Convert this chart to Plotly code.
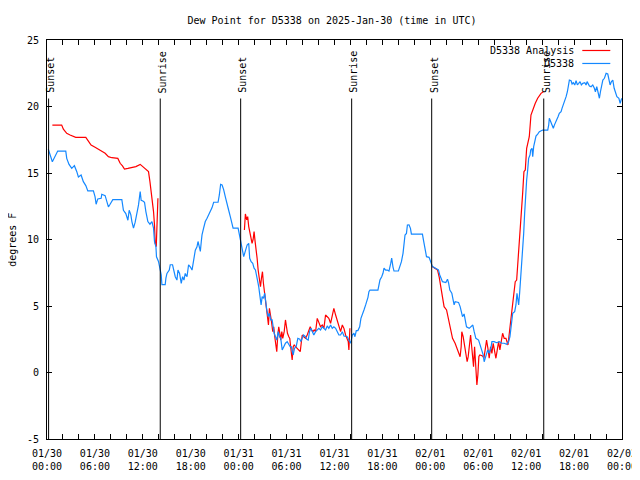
import plotly.graph_objects as go
import pandas as pd

# ---------------- data ----------------
start = pd.Timestamp("2025-01-30 00:00")

station_hours = [0.16,0.67,1.34,2.35,2.47,2.76,3.10,3.43,3.73,3.93,4.27,4.55,4.86,5.11,5.81,6.02,6.15,6.36,6.78,6.86,7.28,7.49,7.69,7.90,8.24,9.37,9.57,9.87,10.13,10.29,10.50,10.63,10.83,11.04,11.25,11.46,11.67,11.79,12.01,12.21,12.38,12.63,12.89,13.14,13.34,13.46,13.64,13.71,13.96,14.09,14.30,14.39,14.8,14.89,15.02,15.31,15.43,15.72,15.85,16.06,16.27,16.40,16.60,16.81,16.98,17.15,17.31,17.53,17.73,17.94,18.16,18.28,18.44,18.57,18.78,18.91,19.11,19.20,19.32,19.41,19.61,19.82,20.04,20.24,20.45,20.67,20.87,21.42,21.58,21.74,21.92,22.12,22.33,22.55,22.75,22.96,23.17,23.30,23.93,24.09,24.43,24.63,25.06,25.26,25.38,25.56,25.76,25.93,26.10,26.22,26.39,26.51,26.69,26.81,26.94,27.10,27.26,27.39,27.52,27.69,27.85,28.02,28.19,28.32,28.44,28.61,28.77,28.95,29.11,29.27,29.45,29.65,29.86,30.08,30.28,30.45,30.58,30.70,30.83,30.99,31.20,31.41,31.66,31.78,31.96,32.12,32.37,32.53,32.71,32.87,33.04,33.21,33.41,33.63,33.84,34.04,34.25,34.47,34.67,34.88,35.09,35.29,35.51,35.72,35.92,36.14,36.35,36.55,36.76,36.98,37.18,37.39,37.60,37.80,38.02,38.23,38.43,38.56,38.73,38.93,39.15,39.31,39.49,39.69,39.90,40.03,40.19,40.31,40.44,41.44,41.57,41.69,41.91,42.07,42.20,42.41,42.62,42.82,43.04,43.16,43.32,43.45,44.0,44.17,44.38,44.58,44.71,44.83,45.01,45.13,45.33,45.51,45.63,47.01,47.14,47.26,47.39,47.52,47.84,48.06,48.27,49.02,49.18,49.52,49.94,50.15,50.28,50.44,50.69,50.86,50.98,51.11,51.53,51.73,51.91,52.03,52.23,52.36,52.53,52.86,53.16,53.32,53.49,53.70,54.04,54.20,54.45,54.62,54.74,54.87,55.04,55.19,55.37,55.58,55.71,55.99,56.30,56.63,56.96,57.25,57.55,57.80,57.97,58.13,58.31,58.56,58.72,58.85,58.97,59.06,59.18,59.31,59.44,59.56,59.69,59.81,59.94,60.06,60.19,60.31,60.48,60.57,60.73,60.82,60.94,61.07,61.23,61.44,61.65,62.07,62.70,62.82,62.90,62.99,63.24,63.40,63.53,63.65,63.83,63.99,64.15,64.37,64.49,64.66,64.83,65.0,65.16,65.33,65.41,65.62,65.75,65.91,66.08,66.25,66.41,66.58,66.75,66.91,67.09,67.34,67.50,67.63,67.75,67.92,68.13,68.34,68.54,68.67,68.84,69.01,69.17,69.30,69.42,69.60,69.80,70.01,70.22,70.35,70.51,70.68,70.85,71.02,71.18,71.36,71.61,71.77,71.89,72.0]
station_dewpt = [16.8,15.85,16.65,16.65,16.1,15.65,15.35,15.55,15.1,14.7,14.85,14.35,14.05,13.65,13.65,13.2,12.65,13.05,13.1,13.4,13.3,12.9,12.45,12.65,13.0,13.0,12.2,11.95,11.45,12.2,11.85,11.35,10.85,11.3,11.95,12.6,13.6,12.95,12.9,12.8,12.1,11.35,11.15,11.35,10.85,9.85,9.45,8.7,8.35,7.95,7.35,6.6,6.6,7.1,7.45,7.7,8.1,8.1,7.7,7.2,6.95,7.7,7.45,6.7,7.2,6.95,7.45,7.2,8.1,7.95,7.7,8.2,8.95,9.2,9.45,9.85,9.35,9.1,9.85,10.35,10.85,11.35,11.6,11.85,12.1,12.4,12.8,12.8,13.35,14.15,14.1,13.75,13.2,12.75,12.2,11.7,11.2,10.85,10.85,10.34,9.46,8.71,9.59,9.71,8.59,8.33,8.21,7.84,7.71,7.2,6.83,6.45,5.45,5.08,5.7,5.58,5.96,5.2,4.7,4.2,4.45,3.95,3.95,3.44,2.95,2.69,2.44,3.07,2.69,2.57,1.7,1.94,2.2,2.32,2.07,1.94,1.94,1.57,1.32,1.82,1.94,2.57,2.5,2.32,2.64,2.82,2.69,2.5,2.44,3.07,3.32,3.07,2.82,3.07,3.2,3.32,3.2,3.44,3.32,3.2,3.5,3.32,3.57,3.32,3.44,3.32,3.07,2.82,2.82,3.07,2.74,2.74,2.69,2.44,2.2,2.82,2.95,2.69,3.15,3.15,3.44,4.07,4.32,4.7,5.08,5.33,5.65,6.08,6.2,6.2,6.5,6.95,7.2,7.46,7.84,7.7,7.7,7.63,8.2,8.6,7.95,7.63,7.63,7.95,8.33,8.96,9.83,10.34,10.46,11.09,11.1,10.84,10.4,10.4,9.96,9.46,8.96,8.71,8.66,8.33,7.96,7.71,7.33,6.83,6.76,7.01,6.75,6.2,5.96,5.45,5.08,5.33,5.27,4.95,4.45,4.2,4.4,3.95,3.44,3.32,3.44,3.57,3.07,2.57,2.44,2.07,1.7,1.32,0.81,1.07,1.44,1.7,1.44,1.82,2.32,2.32,2.24,2.32,2.2,2.2,2.12,2.32,2.69,3.7,4.45,4.58,5.08,5.96,5.58,5.08,5.96,6.95,7.96,9.46,10.46,11.97,13.47,14.47,15.23,16.1,16.35,16.73,16.86,16.23,16.98,17.48,17.78,17.93,18.11,18.23,18.23,18.6,19.11,18.98,18.6,18.36,18.6,18.74,18.98,19.23,19.49,19.61,19.86,20.11,20.36,20.74,21.11,21.62,21.99,21.94,21.69,21.79,21.62,21.94,21.62,21.74,21.87,21.62,21.74,21.79,21.62,21.87,21.69,21.54,21.49,21.62,21.37,21.11,21.49,20.99,20.62,21.11,21.49,21.99,22.12,22.49,22.44,21.99,21.62,21.87,21.99,21.37,20.99,20.74,20.62,20.24,20.49,20.62]

analysis_night1_hours = [0.67,1.84,2.05,2.47,2.89,3.60,4.86,5.18,5.52,6.02,6.44,6.94,7.28,7.69,8.12,8.87,9.16,9.45,9.70,10.13,10.63,11.13,11.67,12.01,12.42,12.71,12.89,13.05,13.21,13.34,13.46,13.55,13.68,13.80,13.89]
analysis_night1_dewpt = [18.6,18.6,18.3,17.98,17.86,17.68,17.68,17.4,17.1,16.93,16.78,16.6,16.48,16.23,16.15,16.1,15.73,15.53,15.3,15.35,15.43,15.48,15.65,15.48,15.23,15.1,14.35,13.6,12.84,12.1,11.1,9.71,9.46,11.34,13.1]

analysis_night2_hours = [24.72,24.84,25.01,25.13,25.26,25.38,25.56,25.68,25.81,25.93,26.06,26.19,26.31,26.44,26.60,26.73,26.85,26.98,27.10,27.23,27.35,27.48,27.60,27.73,27.85,27.98,28.11,28.27,28.39,28.52,28.65,28.77,28.90,29.02,29.15,29.27,29.40,29.52,29.70,29.86,29.99,30.11,30.28,30.40,30.53,30.70,30.83,30.95,31.12,31.33,31.53,31.71,31.83,31.96,32.16,32.37,32.58,32.79,32.96,33.12,33.29,33.46,33.63,33.84,34.04,34.25,34.47,34.67,34.88,35.09,35.29,35.51,35.72,35.92,36.14,36.35,36.55,36.76,36.98,37.18,37.39,37.60,37.72,37.80,37.93]
analysis_night2_dewpt = [10.71,11.92,11.47,11.72,10.97,10.59,10.21,9.71,10.0,10.59,9.84,9.34,8.59,7.71,7.08,6.45,7.08,7.58,6.71,5.96,5.45,4.95,4.32,3.57,4.82,4.45,3.82,3.07,3.44,2.69,2.2,1.57,2.82,3.44,2.95,2.44,3.07,2.57,3.07,3.95,3.44,2.95,2.69,2.57,1.82,0.94,1.94,2.07,1.94,1.82,1.7,1.57,2.2,2.82,2.69,2.57,2.82,3.2,3.44,3.2,3.07,3.2,3.07,4.07,3.7,3.44,3.57,3.32,4.32,4.2,4.07,3.7,4.32,4.82,4.32,3.82,3.44,3.07,3.57,3.32,2.82,2.44,2.32,1.7,3.32]

analysis_night3_hours = [48.27,48.90,49.10,49.22,49.40,49.60,49.72,50.03,50.19,50.35,50.53,50.78,51.10,51.41,51.61,51.73,51.86,51.94,52.11,52.28,52.45,52.61,52.74,52.86,53.04,53.16,53.29,53.41,53.54,53.70,53.83,53.95,54.08,54.20,54.54,54.71,54.87,55.04,55.21,55.37,55.54,55.71,55.87,56.05,56.21,56.38,56.55,56.71,56.88,57.05,57.25,57.47,57.72,57.88,58.01,58.13,58.26,58.38,58.51,58.63,58.81,58.93,59.06,59.22,59.39,59.56,59.72,59.89,60.06,60.23,60.39,60.60,60.82,61.14,61.44,61.65,61.86,62.15]
analysis_night3_dewpt = [7.96,7.71,7.2,6.71,6.2,5.45,4.95,4.7,4.2,3.7,3.07,2.57,2.2,1.7,1.32,1.19,1.94,3.07,2.69,2.07,1.44,0.81,1.19,1.94,2.82,2.07,1.07,0.44,1.94,0.32,-0.94,-0.19,1.2,1.32,1.25,1.07,1.82,2.44,1.82,1.07,1.94,1.44,2.2,1.7,1.07,1.7,2.32,1.7,2.2,2.95,2.57,2.57,2.07,2.95,3.7,4.2,4.95,5.45,6.2,6.83,6.95,7.96,8.71,10.46,11.97,13.47,15.1,15.23,16.86,17.48,17.73,19.36,19.74,20.24,20.62,20.79,20.99,21.11]

sun_event_labels = ["Sunset", "Sunrise", "Sunset", "Sunrise", "Sunset", "Sunrise"]
sun_event_hours = [0.2, 14.18, 24.25, 38.15, 48.17, 62.2]

tick_hours = list(range(0, 73, 2))
label_every = 6
y_tick_values = [-5, 0, 5, 10, 15, 20, 25]

# ---------------- build ----------------
def to_time(hs):
    return [start + pd.Timedelta(hours=h) for h in hs]

ax_x, ax_y = [], []
for hs, vs in [(analysis_night1_hours, analysis_night1_dewpt),
               (analysis_night2_hours, analysis_night2_dewpt),
               (analysis_night3_hours, analysis_night3_dewpt)]:
    ax_x += to_time(hs) + [None]
    ax_y += vs + [None]

RED = "#ff0000"
BLUE = "#1488ff"
FONT = "DejaVu Sans Mono"

# the page body adds an 8px offset, so the figure is 632x472 drawn at (8, 8)
OFF = 8
FIG_W, FIG_H = 640 - OFF, 480 - OFF

fig = go.Figure()
fig.add_trace(go.Scatter(x=ax_x, y=ax_y, mode="lines", name="D5338 Analysis",
                         line=dict(color=RED, width=1.2), connectgaps=False))
fig.add_trace(go.Scatter(x=to_time(station_hours), y=station_dewpt, mode="lines",
                         name="D5338", line=dict(color=BLUE, width=1.2)))

tickvals = to_time(tick_hours)
ticktext = []
for h in tick_hours:
    if h % label_every == 0:
        tt = start + pd.Timedelta(hours=h)
        ticktext.append(tt.strftime("%m/%d") + "<br>" + tt.strftime("%H:%M"))
    else:
        ticktext.append("")

shapes = []
annotations = []
for lab, h in zip(sun_event_labels, sun_event_hours):
    t = start + pd.Timedelta(hours=h)
    shapes.append(dict(type="line", xref="x", yref="y", x0=t, x1=t, y0=-5, y1=20.6,
                       line=dict(color="black", width=1)))
    annotations.append(dict(x=t, y=20.85, xref="x", yref="y", text=lab, textangle=-90,
                            showarrow=False, xanchor="center", yanchor="bottom", xshift=2,
                            font=dict(family=FONT, size=10, color="black")))

# manual legend (text right aligned, sample line to the right); pixel positions in the window
PL, PR, PT, PB = 46.7, 621.7, 39.5, 439.0
pw, ph = PR - PL, PB - PT
def px_x(p): return (p - PL) / pw
def px_y(p): return (PB - p) / ph

for name, color, ypix in [("D5338 Analysis", RED, 50), ("D5338", BLUE, 63)]:
    annotations.append(dict(x=px_x(576), y=px_y(ypix), xref="paper", yref="paper", text=name,
                            showarrow=False, xanchor="right", yanchor="middle",
                            font=dict(family=FONT, size=10, color="black")))
    shapes.append(dict(type="line", xref="paper", yref="paper", x0=px_x(582), x1=px_x(610),
                       y0=px_y(ypix), y1=px_y(ypix), line=dict(color=color, width=1.2)))

# y tick labels, right aligned a few pixels left of the axis
for v in y_tick_values:
    annotations.append(dict(x=px_x(41), y=v, xref="paper", yref="y", text=str(v),
                            showarrow=False, xanchor="right", yanchor="middle",
                            font=dict(family=FONT, size=10, color="black")))

annotations.append(dict(x=px_x(12), y=0.5, xref="paper", yref="paper", text="degrees F",
                        textangle=-90, showarrow=False, xanchor="center", yanchor="middle",
                        font=dict(family=FONT, size=10, color="black")))

fig.update_layout(
    width=FIG_W, height=FIG_H,
    margin=dict(l=PL - OFF, r=640 - PR, t=PT - OFF, b=480 - PB, autoexpand=False),
    paper_bgcolor="white", plot_bgcolor="white",
    showlegend=False,
    font=dict(family=FONT, size=10, color="black"),
    title=dict(text="Dew Point for D5338 on 2025-Jan-30 (time in UTC)",
               x=(332 - OFF) / FIG_W, y=1 - (20 - OFF) / FIG_H,
               xanchor="center", yanchor="middle", font=dict(family=FONT, size=10, color="black")),
    xaxis=dict(range=[start, start + pd.Timedelta(hours=72)], tickmode="array",
               tickvals=tickvals, ticktext=ticktext, ticks="inside", ticklen=5,
               tickcolor="black", showline=True, linecolor="black", linewidth=1,
               mirror="ticks", showgrid=False, zeroline=False, ticklabelstandoff=5),
    yaxis=dict(range=[-5, 25], tickmode="array", tickvals=y_tick_values, ticks="inside",
               ticklen=5, tickcolor="black", showline=True, linecolor="black", linewidth=1,
               mirror="ticks", showgrid=False, zeroline=False, showticklabels=False),
    shapes=shapes, annotations=annotations,
)

fig.write_html("out.html")
